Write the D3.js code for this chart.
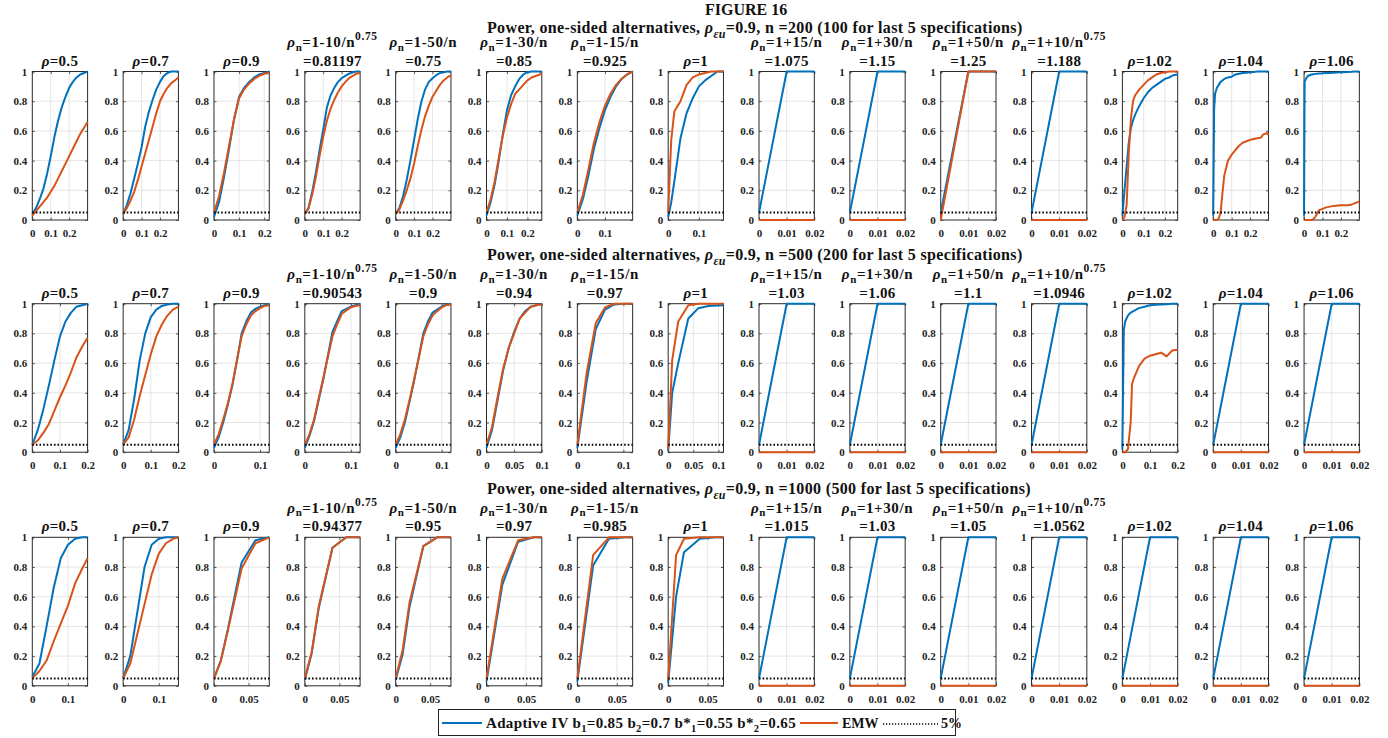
<!DOCTYPE html>
<html><head><meta charset="utf-8">
<script src="https://cdn.jsdelivr.net/npm/d3@7"></script>
<style>
body{margin:0;background:#fff}
svg{display:block}
text{font-family:"Liberation Serif","Times New Roman",serif;font-weight:bold;fill:#111}
</style>
</head><body>
<svg id="c" width="1388" height="738"></svg>
<script>
// ---------------- DATA ----------------
const rowN = ["200", "500", "1000"];
const rowNLast = ["100", "200", "500"];
const yTickValues = [0, 0.2, 0.4, 0.6, 0.8, 1];
const nominalLevel = 0.05;

// shared x grids
const X_LIN = [0, 0.01, 0.02];
const B_LIN = [0.05, 1, 1];
const E_ZERO = [0, 0, 0];
const E_LIN = [0, 1, 1];
const X30 = [0,0.02,0.04,0.06,0.08,0.1,0.12,0.14,0.16,0.18,0.2,0.22,0.24,0.26,0.28,0.3];
const X27 = [0,0.02,0.04,0.06,0.08,0.1,0.12,0.14,0.16,0.18,0.2,0.22,0.24,0.26,0.27];
const X22 = [0,0.02,0.04,0.06,0.08,0.1,0.12,0.14,0.16,0.18,0.2,0.22];
const X20 = [0,0.02,0.04,0.06,0.08,0.1,0.12,0.14,0.16,0.18,0.2];
const X12 = [0,0.01,0.02,0.03,0.04,0.05,0.06,0.07,0.08,0.09,0.1,0.11,0.12];
const X10 = [0,0.01,0.02,0.03,0.04,0.05,0.06,0.07,0.08,0.09,0.1];
const X155 = [0,0.02,0.04,0.06,0.08,0.1,0.12,0.14,0.155];
const X08 = [0,0.01,0.02,0.04,0.06,0.08];

// ----- Row 1: n = 200 -----
const r1_05_b = [0.04,0.08,0.14,0.21,0.31,0.43,0.56,0.67,0.76,0.83,0.89,0.93,0.96,0.98,0.99,1.0];
const r1_05_e = [0.03,0.06,0.09,0.12,0.15,0.19,0.23,0.28,0.33,0.38,0.43,0.48,0.53,0.58,0.62,0.66];
const r1_07_b = [0.04,0.1,0.18,0.28,0.38,0.49,0.63,0.73,0.81,0.88,0.93,0.97,0.99,1,1,1];
const r1_07_e = [0.04,0.08,0.13,0.19,0.27,0.36,0.45,0.54,0.63,0.72,0.80,0.85,0.89,0.92,0.94,0.96];
const r1_09_b = [0.02,0.12,0.29,0.48,0.68,0.83,0.89,0.93,0.96,0.98,0.99,1.0];
const r1_09_e = [0.05,0.16,0.32,0.50,0.68,0.82,0.88,0.92,0.95,0.97,0.985,0.99];
const r1_p4_b = [0.04,0.08,0.19,0.32,0.47,0.61,0.76,0.84,0.89,0.93,0.955,0.97,0.985,0.995,1,1];
const r1_p4_e = [0.04,0.08,0.17,0.29,0.43,0.56,0.67,0.75,0.81,0.86,0.9,0.93,0.955,0.97,0.985,0.99];
const r1_p5_b = [0.04,0.08,0.16,0.27,0.4,0.54,0.68,0.80,0.88,0.93,0.955,0.975,0.99,0.995,1,1];
const r1_p5_e = [0.04,0.07,0.13,0.2,0.28,0.38,0.5,0.61,0.7,0.77,0.83,0.87,0.91,0.94,0.96,0.975];
const r1_p6_b = [0.03,0.12,0.24,0.4,0.58,0.74,0.84,0.9,0.95,0.98,0.995,1,1,1,1];
const r1_p6_e = [0.05,0.14,0.26,0.42,0.57,0.69,0.78,0.85,0.88,0.91,0.94,0.96,0.97,0.98,0.985];
const r1_p7_b = [0.03,0.14,0.3,0.48,0.62,0.74,0.83,0.9,0.95,0.98,1.0];
const r1_p7_e = [0.05,0.17,0.34,0.52,0.66,0.77,0.85,0.91,0.95,0.98,1.0];
const r1_p8_x = [0,0.01,0.02,0.04,0.06,0.08,0.1,0.12,0.14,0.16,0.18];
const r1_p8_b = [0.02,0.12,0.26,0.55,0.72,0.82,0.9,0.94,0.97,1.0,1.0];
const r1_p8_e = [0.05,0.54,0.73,0.8,0.91,0.96,0.98,0.99,1,1,1];
const r1_102_x = [0,0.01,0.02,0.03,0.04,0.05,0.06,0.08,0.1,0.12,0.14,0.16,0.18,0.2,0.22,0.24,0.26];
const r1_102_b = [0.03,0.2,0.36,0.52,0.62,0.67,0.71,0.77,0.82,0.86,0.89,0.91,0.93,0.95,0.96,0.975,0.98];
const r1_102_e = [0,0.02,0.1,0.45,0.68,0.8,0.84,0.88,0.91,0.94,0.96,0.98,0.99,0.995,1,1,1];
const r1_104_x = [0,0.005,0.01,0.02,0.03,0.04,0.05,0.06,0.07,0.08,0.1,0.12,0.14,0.16,0.18,0.2,0.22,0.24,0.26,0.27,0.28,0.29,0.3];
const r1_104_b = [0.03,0.75,0.85,0.89,0.91,0.93,0.94,0.95,0.955,0.96,0.965,0.98,0.985,0.99,0.992,0.995,0.997,1,1,1,1,1,1];
const r1_104_e = [0,0,0,0,0.01,0.05,0.18,0.3,0.35,0.4,0.44,0.47,0.5,0.52,0.53,0.54,0.545,0.55,0.555,0.575,0.58,0.585,0.575];
const r1_106_x = [0,0.003,0.01,0.02,0.04,0.05,0.06,0.07,0.08,0.09,0.1,0.12,0.14,0.16,0.2,0.24,0.26,0.28,0.3];
const r1_106_b = [0.03,0.93,0.95,0.97,0.98,0.982,0.984,0.985,0.986,0.987,0.988,0.99,0.99,0.992,0.995,0.997,0.998,1,1];
const r1_106_e = [0,0,0,0,0,0.005,0.02,0.04,0.065,0.07,0.075,0.085,0.09,0.095,0.1,0.1,0.105,0.115,0.125];

// ----- Row 2: n = 500 -----
const r2_05_b = [0.05,0.15,0.29,0.45,0.62,0.78,0.88,0.94,0.98,0.99,1.0];
const r2_05_e = [0.05,0.08,0.13,0.19,0.28,0.37,0.45,0.54,0.64,0.71,0.77];
const r2_07_b = [0.05,0.15,0.36,0.62,0.8,0.91,0.96,0.985,0.995,1,1];
const r2_07_e = [0.05,0.1,0.22,0.38,0.52,0.66,0.78,0.86,0.92,0.96,0.98];
const r2_09_b = [0.03,0.1,0.2,0.32,0.45,0.62,0.8,0.88,0.94,0.965,0.98,0.99,1.0];
const r2_09_e = [0.05,0.12,0.22,0.33,0.46,0.62,0.78,0.86,0.92,0.95,0.97,0.985,0.99];
const r2_p4_b = [0.03,0.11,0.21,0.35,0.49,0.65,0.81,0.88,0.95,0.965,0.98,0.99,1];
const r2_p4_e = [0.05,0.12,0.22,0.36,0.5,0.64,0.78,0.86,0.93,0.955,0.975,0.985,0.99];
const r2_p5_b = [0.03,0.1,0.2,0.34,0.48,0.64,0.8,0.88,0.94,0.96,0.98,0.995,1];
const r2_p5_e = [0.05,0.12,0.22,0.35,0.49,0.63,0.78,0.86,0.92,0.95,0.975,0.99,0.995];
const r2_p6_b = [0.03,0.15,0.35,0.55,0.7,0.81,0.9,0.95,0.98,0.99,1.0];
const r2_p6_e = [0.05,0.17,0.37,0.56,0.7,0.8,0.9,0.94,0.98,0.99,0.995];
const r2_p7_x = [0,0.02,0.04,0.06,0.08,0.1,0.12];
const r2_p7_b = [0.03,0.47,0.83,0.96,0.995,1,1];
const r2_p7_e = [0.05,0.53,0.87,0.975,1,1,1];
const r2_p8_x = [0,0.008,0.02,0.04,0.06,0.08,0.11];
const r2_p8_b = [0.01,0.4,0.6,0.9,0.97,0.985,0.99];
const r2_p8_e = [0.02,0.62,0.88,0.99,1,1,1];
const r2_102_x = [0,0.005,0.01,0.02,0.03,0.035,0.04,0.06,0.08,0.1,0.12,0.14,0.16,0.18,0.2];
const r2_102_b = [0.02,0.82,0.88,0.92,0.94,0.945,0.95,0.97,0.98,0.99,0.993,0.995,0.997,1,1];
const r2_102_e = [0,0,0,0.02,0.2,0.46,0.49,0.58,0.63,0.65,0.66,0.67,0.645,0.685,0.69];

// ----- Row 3: n = 1000 -----
const r3_05_b = [0.06,0.15,0.4,0.66,0.86,0.95,0.99,1,1];
const r3_05_e = [0.05,0.1,0.17,0.3,0.42,0.54,0.69,0.79,0.86];
const r3_07_b = [0.05,0.2,0.5,0.8,0.95,0.99,1,1,1];
const r3_07_e = [0.05,0.15,0.35,0.55,0.75,0.89,0.96,0.99,1];
const r3_09_b = [0.05,0.17,0.38,0.83,0.98,1];
const r3_09_e = [0.05,0.17,0.37,0.79,0.96,1];
const r3_p4_b = [0.04,0.22,0.52,0.93,1,1];
const r3_p4_e = [0.05,0.23,0.53,0.93,1,1];
const r3_p5_b = [0.04,0.21,0.53,0.94,1,1];
const r3_p5_e = [0.05,0.24,0.56,0.94,1,1];
const r3_p6_x = [0,0.02,0.04,0.05,0.06,0.07];
const r3_p6_b = [0.03,0.68,0.97,0.985,1,1];
const r3_p6_e = [0.05,0.72,0.98,0.99,1,1];
const r3_p7_x = [0,0.02,0.04,0.06,0.07];
const r3_p7_b = [0.03,0.81,0.99,1,1];
const r3_p7_e = [0.05,0.88,1,1,1];
const r3_p8_x = [0,0.01,0.02,0.04,0.06,0.07];
const r3_p8_b = [0.02,0.6,0.9,0.99,1,1];
const r3_p8_e = [0.04,0.88,0.99,1,1,1];

// titles: f = formula line ("" if none), v = second line
const T = (f, v) => ({f, v});
const row1Titles = [T("","ρ=0.5"),T("","ρ=0.7"),T("","ρ=0.9"),T("1-10/n^0.75","=0.81197"),T("1-50/n","=0.75"),T("1-30/n","=0.85"),T("1-15/n","=0.925"),T("","ρ=1"),T("1+15/n","=1.075"),T("1+30/n","=1.15"),T("1+50/n","=1.25"),T("1+10/n^0.75","=1.188"),T("","ρ=1.02"),T("","ρ=1.04"),T("","ρ=1.06")];
const row2Titles = [T("","ρ=0.5"),T("","ρ=0.7"),T("","ρ=0.9"),T("1-10/n^0.75","=0.90543"),T("1-50/n","=0.9"),T("1-30/n","=0.94"),T("1-15/n","=0.97"),T("","ρ=1"),T("1+15/n","=1.03"),T("1+30/n","=1.06"),T("1+50/n","=1.1"),T("1+10/n^0.75","=1.0946"),T("","ρ=1.02"),T("","ρ=1.04"),T("","ρ=1.06")];
const row3Titles = [T("","ρ=0.5"),T("","ρ=0.7"),T("","ρ=0.9"),T("1-10/n^0.75","=0.94377"),T("1-50/n","=0.95"),T("1-30/n","=0.97"),T("1-15/n","=0.985"),T("","ρ=1"),T("1+15/n","=1.015"),T("1+30/n","=1.03"),T("1+50/n","=1.05"),T("1+10/n^0.75","=1.0562"),T("","ρ=1.02"),T("","ρ=1.04"),T("","ρ=1.06")];

// x-axis extents and ticks per panel
const row1XMax = [0.3,0.3,0.22,0.3,0.3,0.27,0.2,0.18,0.02,0.02,0.02,0.02,0.26,0.3,0.3];
const row2XMax = [0.2,0.2,0.12,0.12,0.12,0.1,0.12,0.11,0.02,0.02,0.02,0.02,0.2,0.02,0.02];
const row3XMax = [0.155,0.155,0.08,0.08,0.08,0.07,0.07,0.07,0.02,0.02,0.02,0.02,0.02,0.02,0.02];
const TK_A = [0,0.1,0.2], TK_B = [0,0.1], TK_C = [0,0.05,0.1], TK_D = [0,0.05], TK_L = [0,0.01,0.02];
const row1XTicks = [TK_A,TK_A,TK_A,TK_A,TK_A,TK_A,TK_B,TK_B,TK_L,TK_L,TK_L,TK_L,TK_A,TK_A,TK_A];
const row2XTicks = [TK_A,TK_A,TK_B,TK_B,TK_B,TK_C,TK_B,TK_C,TK_L,TK_L,TK_L,TK_L,TK_A,TK_L,TK_L];
const row3XTicks = [TK_B,TK_B,TK_D,TK_D,TK_D,TK_D,TK_D,TK_D,TK_L,TK_L,TK_L,TK_L,TK_L,TK_L,TK_L];

// series per panel: [x, adaptive, emw]
const row1Series = [
  [X30,r1_05_b,r1_05_e],[X30,r1_07_b,r1_07_e],[X22,r1_09_b,r1_09_e],[X30,r1_p4_b,r1_p4_e],
  [X30,r1_p5_b,r1_p5_e],[X27,r1_p6_b,r1_p6_e],[X20,r1_p7_b,r1_p7_e],[r1_p8_x,r1_p8_b,r1_p8_e],
  [X_LIN,B_LIN,E_ZERO],[X_LIN,B_LIN,E_ZERO],[X_LIN,B_LIN,E_LIN],[X_LIN,B_LIN,E_ZERO],
  [r1_102_x,r1_102_b,r1_102_e],[r1_104_x,r1_104_b,r1_104_e],[r1_106_x,r1_106_b,r1_106_e]];
const row2Series = [
  [X20,r2_05_b,r2_05_e],[X20,r2_07_b,r2_07_e],[X12,r2_09_b,r2_09_e],[X12,r2_p4_b,r2_p4_e],
  [X12,r2_p5_b,r2_p5_e],[X10,r2_p6_b,r2_p6_e],[r2_p7_x,r2_p7_b,r2_p7_e],[r2_p8_x,r2_p8_b,r2_p8_e],
  [X_LIN,B_LIN,E_ZERO],[X_LIN,B_LIN,E_ZERO],[X_LIN,B_LIN,E_ZERO],[X_LIN,B_LIN,E_ZERO],
  [r2_102_x,r2_102_b,r2_102_e],[X_LIN,B_LIN,E_ZERO],[X_LIN,B_LIN,E_ZERO]];
const row3Series = [
  [X155,r3_05_b,r3_05_e],[X155,r3_07_b,r3_07_e],[X08,r3_09_b,r3_09_e],[X08,r3_p4_b,r3_p4_e],
  [X08,r3_p5_b,r3_p5_e],[r3_p6_x,r3_p6_b,r3_p6_e],[r3_p7_x,r3_p7_b,r3_p7_e],[r3_p8_x,r3_p8_b,r3_p8_e],
  [X_LIN,B_LIN,E_ZERO],[X_LIN,B_LIN,E_ZERO],[X_LIN,B_LIN,E_ZERO],[X_LIN,B_LIN,E_ZERO],
  [X_LIN,B_LIN,E_ZERO],[X_LIN,B_LIN,E_ZERO],[X_LIN,B_LIN,E_ZERO]];

// ---------------- LAYOUT / STYLE ----------------
const colB = "#0072BD", colE = "#D95319";
const left0 = 32.3, stepX = 90.84, pw = 55.3, ph = 148.5;
const rowTops = [71.5, 303.7, 537.3];
const rowTitleY = [33, 260, 494];
const rows = [
  {titles: row1Titles, xmax: row1XMax, xt: row1XTicks, series: row1Series},
  {titles: row2Titles, xmax: row2XMax, xt: row2XTicks, series: row2Series},
  {titles: row3Titles, xmax: row3XMax, xt: row3XTicks, series: row3Series}
];

const svg = d3.select("#c");
svg.append("rect").attr("width",1388).attr("height",738).attr("fill","#fff");

svg.append("text").attr("x",705).attr("y",15).attr("font-size",16).text("FIGURE 16");

const fmt = v => v === 0 ? "0" : String(v);

function rhoTitle(g, cx, yb, str) {
  const t = g.append("text").attr("x",cx).attr("y",yb).attr("text-anchor","middle")
    .attr("font-size",15).attr("letter-spacing",0.3);
  if (str.startsWith("ρ")) {
    t.append("tspan").attr("font-style","italic").text("ρ");
    t.append("tspan").text(str.slice(1));
  } else t.append("tspan").text(str);
}
function formulaTitle(g, cx, yb, spec) {
  const t = g.append("text").attr("x",cx).attr("y",yb).attr("text-anchor","middle")
    .attr("font-size",15).attr("letter-spacing",0.6);
  t.append("tspan").attr("font-style","italic").text("ρ");
  t.append("tspan").attr("font-size",11).attr("dy",3.5).text("n");
  const parts = spec.split("^");
  t.append("tspan").attr("dy",-3.5).text("=" + parts[0]);
  if (parts[1]) t.append("tspan").attr("font-size",11.5).attr("dy",-7).text(parts[1]);
}

rows.forEach((row, ri) => {
  const top = rowTops[ri];
  const rt = svg.append("text").attr("x",487).attr("y",rowTitleY[ri]).attr("font-size",16).attr("letter-spacing",0.35);
  rt.append("tspan").text("Power, one-sided alternatives, ");
  rt.append("tspan").attr("font-style","italic").text("ρ");
  rt.append("tspan").attr("font-size",12).attr("font-style","italic").attr("dy",5).text("εu");
  rt.append("tspan").attr("dy",-5).text(`=0.9, n =${rowN[ri]} (${rowNLast[ri]} for last 5 specifications)`);

  row.series.forEach((s, i) => {
    const L = left0 + i*stepX;
    const g = svg.append("g");
    const x = d3.scaleLinear().domain([0, row.xmax[i]]).range([L, L+pw]);
    const y = d3.scaleLinear().domain([0, 1]).range([top+ph, top]);
    const xt = row.xt[i];

    // grid
    g.append("g").selectAll("line").data(xt.filter(v => v > 0 && v < row.xmax[i] - 1e-9)).join("line")
      .attr("x1",d=>x(d)).attr("x2",d=>x(d)).attr("y1",top).attr("y2",top+ph)
      .attr("stroke","#dedede").attr("stroke-width",0.8);
    g.append("g").selectAll("line").data(yTickValues.filter(v => v > 0 && v < 1)).join("line")
      .attr("y1",d=>y(d)).attr("y2",d=>y(d)).attr("x1",L).attr("x2",L+pw)
      .attr("stroke","#dedede").attr("stroke-width",0.8);

    // axes
    const ay = g.append("g").attr("transform",`translate(${L},0)`)
      .call(d3.axisLeft(y).tickValues(yTickValues).tickFormat(fmt).tickSize(-2.5).tickPadding(5));
    const ay2 = g.append("g").attr("transform",`translate(${L+pw},0)`)
      .call(d3.axisRight(y).tickValues(yTickValues).tickFormat("").tickSize(-2.5));
    const ax = g.append("g").attr("transform",`translate(0,${top+ph})`)
      .call(d3.axisBottom(x).tickValues(xt).tickFormat(fmt).tickSize(-2.5).tickPadding(9));
    const ax2 = g.append("g").attr("transform",`translate(0,${top})`)
      .call(d3.axisTop(x).tickValues(xt).tickFormat("").tickSize(-2.5));
    [ay,ay2,ax,ax2].forEach(a => {
      a.attr("font-family",'"Liberation Serif",serif').attr("font-size",11);
      a.select(".domain").remove();
      a.selectAll("line").attr("stroke","#333").attr("stroke-width",0.8);
      a.selectAll("text").style("fill","#222");
    });
    g.append("rect").attr("x",L).attr("y",top).attr("width",pw).attr("height",ph)
      .attr("fill","none").attr("stroke","#2a2a2a").attr("stroke-width",1);

    // data
    const [xs, bs, es] = s;
    const line = d3.line().x(d=>x(d[0])).y(d=>y(d[1]));
    g.append("path").attr("d", line(xs.map((v,k)=>[v,bs[k]])))
      .attr("fill","none").attr("stroke",colB).attr("stroke-width",2).attr("stroke-linejoin","round");
    g.append("path").attr("d", line(xs.map((v,k)=>[v,es[k]])))
      .attr("fill","none").attr("stroke",colE).attr("stroke-width",2).attr("stroke-linejoin","round");
    g.append("line").attr("x1",x(0)).attr("x2",x(row.xmax[i])).attr("y1",y(nominalLevel)).attr("y2",y(nominalLevel))
      .attr("stroke","#000").attr("stroke-width",2).attr("stroke-dasharray","1.6,2");

    // titles
    const cx = L + pw/2;
    const tt = row.titles[i];
    if (tt.f) formulaTitle(g, cx, top-24.5, tt.f);
    rhoTitle(g, cx, top-6, tt.v);
  });
});

// ---------------- LEGEND ----------------
const lg = svg.append("g");
lg.append("rect").attr("x",438.5).attr("y",709.5).attr("width",517).attr("height",26)
  .attr("fill","#fff").attr("stroke","#222").attr("stroke-width",1);
const legY = 723;
lg.append("line").attr("x1",442).attr("x2",482).attr("y1",legY).attr("y2",legY).attr("stroke",colB).attr("stroke-width",2);
const lt = lg.append("text").attr("x",486).attr("y",legY+4.5).attr("font-size",15).attr("letter-spacing",0.35);
const legParts = [["Adaptive IV b",""],["1","s"],["=0.85 b",""],["2","s"],["=0.7 b*",""],["1","s"],["=0.55 b*",""],["2","s"],["=0.65",""]];
let prevSub = false;
legParts.forEach(([txt, kind]) => {
  const ts = lt.append("tspan").text(txt);
  if (kind === "s") { ts.attr("font-size",10.5).attr("dy",4); prevSub = true; }
  else if (prevSub) { ts.attr("dy",-4); prevSub = false; }
});
lg.append("line").attr("x1",800).attr("x2",838).attr("y1",legY).attr("y2",legY).attr("stroke",colE).attr("stroke-width",2);
lg.append("text").attr("x",842).attr("y",legY+4.5).attr("font-size",14).text("EMW");
lg.append("line").attr("x1",883).attr("x2",938).attr("y1",legY+1).attr("y2",legY+1).attr("stroke","#000").attr("stroke-width",1.5).attr("stroke-dasharray","1.2,1.8");
lg.append("text").attr("x",941).attr("y",legY+4.5).attr("font-size",14).text("5%");
</script>
</body></html>
